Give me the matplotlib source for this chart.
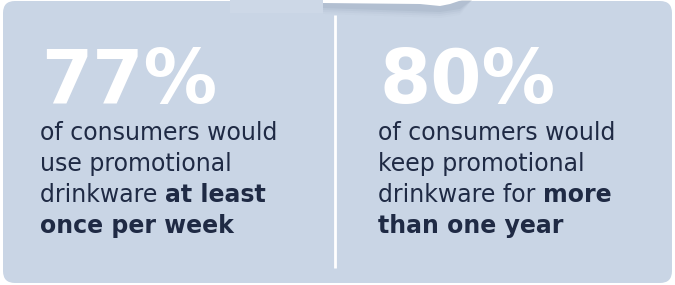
import matplotlib.pyplot as plt
from matplotlib.patches import FancyBboxPatch, Polygon

# figures and captions for the two panels
stats = ['77%', '80%']
captions = [
    [('of consumers would', ''), ('use promotional', ''),
     ('drinkware ', 'at least'), ('', 'once per week')],
    [('of consumers would', ''), ('keep promotional', ''),
     ('drinkware for ', 'more'), ('', 'than one year')],
]
col_x = [40, 378]

bg = '#c9d5e5'
dark = '#1f2a44'

fig = plt.figure(figsize=(6.75, 2.85), dpi=100)
ax = fig.add_axes([0, 0, 1, 1])
ax.set_xlim(0, 675)
ax.set_ylim(285, 0)
ax.axis('off')

# rounded panel
ax.add_patch(FancyBboxPatch((3 + 12, 1 + 12), 669 - 24, 282 - 24,
                            boxstyle='round,pad=12', fc=bg, ec='none'))

# bit of the cup peeking in at the top
ax.add_patch(Polygon([(230, 0), (323, 0), (323, 13), (230, 13)],
                     closed=True, fc='#cdd8e7', ec='none'))
for i, a in enumerate([0.025, 0.035, 0.05, 0.07]):
    d = 10 - 2 * i
    ax.add_patch(Polygon([(323, 0), (472, 0), (460, 5 + d), (440, 8 + d),
                          (323, 4 + d)], closed=True, fc='#4a5a78',
                         alpha=a, ec='none'))
ax.add_patch(Polygon([(323, 0), (462, 0), (450, 4), (440, 6), (420, 4),
                      (323, 3)], closed=True, fc='white', ec='none'))

# divider
ax.plot([335, 335], [15, 268], color='white', lw=2, solid_capstyle='butt')

for x, stat, lines in zip(col_x, stats, captions):
    ax.text(x + 1, 103, stat, fontsize=53, fontweight='bold', color='white',
            ha='left', va='baseline', family='DejaVu Sans')
    for k, (normal, bold) in enumerate(lines):
        y = 140 + k * 31
        t = ax.text(x, y, normal, fontsize=17, color=dark, ha='left',
                    va='baseline', family='DejaVu Sans')
        if bold:
            if normal:
                ax.annotate(bold, xy=(1, 0), xycoords=t, fontsize=17,
                            fontweight='bold', color=dark, ha='left',
                            va='bottom', family='DejaVu Sans')
            else:
                ax.text(x, y, bold, fontsize=17, fontweight='bold',
                        color=dark, ha='left', va='baseline',
                        family='DejaVu Sans')

fig.savefig('out.png', dpi=100, facecolor='white')
